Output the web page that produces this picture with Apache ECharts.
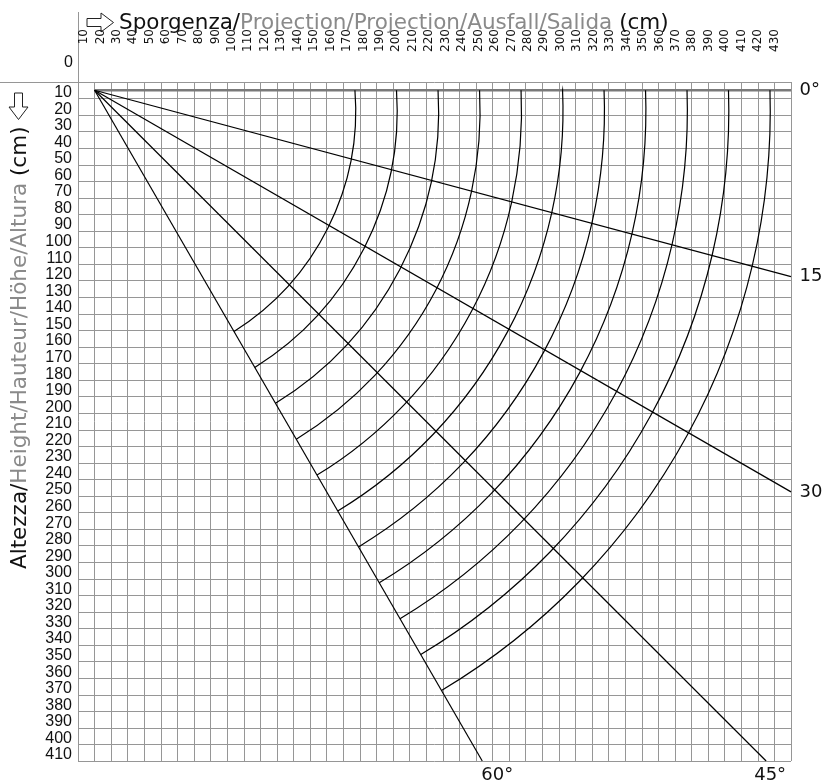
<!DOCTYPE html>
<html><head><meta charset="utf-8">
<script src="https://cdn.jsdelivr.net/npm/echarts@6/dist/echarts.min.js"></script>
<style>html,body{margin:0;padding:0;background:#fff}#c{width:823px;height:784px}</style>
</head><body><div id="c"></div>
<script>
// ---- data ----
const xTickLabels = ['10','20','30','40','50','60','70','80','90','100','110','120','130','140','150','160','170','180','190','200','210','220','230','240','250','260','270','280','290','300','310','320','330','340','350','360','370','380','390','400','410','420','430'];
const yTickLabels = ['10','20','30','40','50','60','70','80','90','100','110','120','130','140','150','160','170','180','190','200','210','220','230','240','250','260','270','280','290','300','310','320','330','340','350','360','370','380','390','400','410'];
const rayNames = ['0°','15°','30°','45°','60°'];
const rayOrigin = [10, 5];
const rayEnds = [[430, 5], [430, 117.5], [430, 247.5], [415, 410], [243.8, 410]];
const arcCenter = [10, 17.3];
const arcRadii = [157.5, 182.5, 207.5, 232.5, 257.5, 282.5, 307.5, 332.5, 357.5, 382.5, 407.5];

// ---- layout constants ----
const G = {left: 78, top: 82, width: 713, height: 679};
const GL = {left: 67.5, top: 82, width: 707, height: 679}; // label-only grid for the projection ticks
const gridColor = '#969696';
const chart = echarts.init(document.getElementById('c'), null, {renderer: 'canvas'});

function rayLabelFor(i) {
  if (i <= 2) return {show: true, position: 'right', distance: 8, fontSize: 18, color: '#111', fontFamily: 'DejaVu Sans', formatter: rayNames[i]};
  return {show: true, position: 'bottom', distance: 5, offset: [i === 4 ? 15 : 4, 0], fontSize: 18, color: '#111', fontFamily: 'DejaVu Sans', formatter: rayNames[i]};
}

const raySeries = rayEnds.map((end, i) => ({
  type: 'line',
  name: rayNames[i],
  xAxisIndex: 0, yAxisIndex: 0,
  data: [{value: rayOrigin, label: {show: false}}, {value: end, label: rayLabelFor(i)}],
  showSymbol: true, symbol: 'circle', symbolSize: 1,
  itemStyle: {color: 'rgba(0,0,0,0)'},
  lineStyle: i === 0 ? {color: '#7a7a7a', width: 2.6} : {color: '#000', width: 1.2},
  z: i === 0 ? 3 : 4,
  silent: true
}));

function arcEndpoints(R) {
  const [cx, cy] = arcCenter;
  const [ox, oy] = rayOrigin;
  const s = [cx + Math.sqrt(R * R - (oy - cy) * (oy - cy)), oy];
  const e60 = rayEnds[4];
  let dx = e60[0] - ox, dy = e60[1] - oy;
  const L = Math.hypot(dx, dy); dx /= L; dy /= L;
  const fx = ox - cx, fy = oy - cy;
  const b = 2 * (fx * dx + fy * dy), c = fx * fx + fy * fy - R * R;
  const t = (-b + Math.sqrt(b * b - 4 * c)) / 2;
  return [s, [ox + t * dx, oy + t * dy]];
}

const arcSeries = {
  type: 'custom',
  coordinateSystem: 'cartesian2d',
  xAxisIndex: 0, yAxisIndex: 0,
  data: arcRadii.map(r => [r]),
  silent: true,
  z: 5,
  renderItem: function (params, api) {
    const R = api.value(0);
    const [s, e] = arcEndpoints(R);
    const C = api.coord(arcCenter);
    const S = api.coord(s);
    const E = api.coord(e);
    const r = Math.hypot(S[0] - C[0], S[1] - C[1]);
    return {
      type: 'arc',
      shape: {cx: C[0], cy: C[1], r: r,
        startAngle: Math.atan2(S[1] - C[1], S[0] - C[0]),
        endAngle: Math.atan2(E[1] - C[1], E[0] - C[0]), clockwise: true},
      style: {stroke: '#000', fill: null, lineWidth: 1.2}
    };
  }
};

// hollow arrow outline (right-pointing), centred on (cx, cy)
function hollowArrow(cx, cy, rot) {
  const pts = [[-13, -4], [1, -4], [1, -9.5], [13.5, 0], [1, 9.5], [1, 4], [-13, 4]];
  return {type: 'polygon', silent: true, x: cx, y: cy, rotation: rot,
    shape: {points: pts}, style: {stroke: '#222', fill: 'none', lineWidth: 1}};
}

const option = {
  animation: false,
  backgroundColor: '#fff',
  grid: [
    {left: G.left, top: G.top, width: G.width, height: G.height, containLabel: false},
    {left: GL.left, top: GL.top, width: GL.width, height: GL.height, containLabel: false}
  ],
  xAxis: [{
    gridIndex: 0, type: 'value', position: 'top', min: 0, max: 430, interval: 10,
    axisLine: {show: false}, axisTick: {show: false}, axisLabel: {show: false},
    splitLine: {show: true, lineStyle: {color: gridColor, width: 1}}
  }, {
    gridIndex: 1, type: 'value', position: 'top', min: 0, max: 430, interval: 10,
    axisLine: {show: false}, axisTick: {show: false}, splitLine: {show: false},
    axisLabel: {
      rotate: 90, align: 'right', verticalAlign: 'middle', lineHeight: 12, margin: 53,
      fontSize: 12, fontFamily: 'DejaVu Sans', color: '#111',
      showMinLabel: true, showMaxLabel: true, hideOverlap: false,
      formatter: v => (v === 0 ? '' : xTickLabels[Math.round(v / 10) - 1])
    }
  }],
  yAxis: [{
    gridIndex: 0, type: 'value', inverse: true, min: 0, max: 410, interval: 10,
    axisLine: {show: false}, axisTick: {show: false},
    splitLine: {show: true, lineStyle: {color: gridColor, width: 1}},
    axisLabel: {
      margin: 6, fontSize: 16, fontFamily: 'Liberation Sans', color: '#111',
      verticalAlign: 'bottom', lineHeight: 12,
      showMinLabel: true, showMaxLabel: true, hideOverlap: false,
      formatter: v => (v === 0 ? '' : yTickLabels[Math.round(v / 10) - 1])
    }
  }, {
    gridIndex: 1, type: 'value', show: false, min: 0, max: 410
  }],
  graphic: [
    {type: 'line', silent: true, shape: {x1: G.left + 0.5, y1: 12, x2: G.left + 0.5, y2: G.top}, style: {stroke: gridColor, lineWidth: 1}},
    {type: 'line', silent: true, shape: {x1: 0, y1: G.top + 0.5, x2: G.left, y2: G.top + 0.5}, style: {stroke: gridColor, lineWidth: 1}},
    hollowArrow(100, 22.5, 0),
    hollowArrow(18.5, 106, -Math.PI / 2),
    {type: 'text', silent: true, x: 119, y: 23, style: {
      text: '{b|Sporgenza/}{g|Projection/Projection/Ausfall/Salida }{b|(cm)}',
      verticalAlign: 'middle',
      rich: {
        b: {fontSize: 21.5, fontFamily: 'DejaVu Sans', fill: '#111'},
        g: {fontSize: 21.5, fontFamily: 'DejaVu Sans', fill: '#8a8a8a'}
      }
    }},
    {type: 'text', silent: true, x: 20, y: 569, rotation: Math.PI / 2, style: {
      text: '{b|Altezza/}{g|Height/Hauteur/Höhe/Altura }{b|(cm)}',
      align: 'left', verticalAlign: 'middle',
      rich: {
        b: {fontSize: 21.5, fontFamily: 'DejaVu Sans', fill: '#111'},
        g: {fontSize: 21.5, fontFamily: 'DejaVu Sans', fill: '#8a8a8a'}
      }
    }},
    {type: 'text', silent: true, x: 73, y: 63, style: {text: '0', align: 'right', verticalAlign: 'middle', fontSize: 16, fontFamily: 'Liberation Sans', fill: '#111'}}
  ],
  series: raySeries.concat([arcSeries])
};
chart.setOption(option);
</script>
</body></html>
